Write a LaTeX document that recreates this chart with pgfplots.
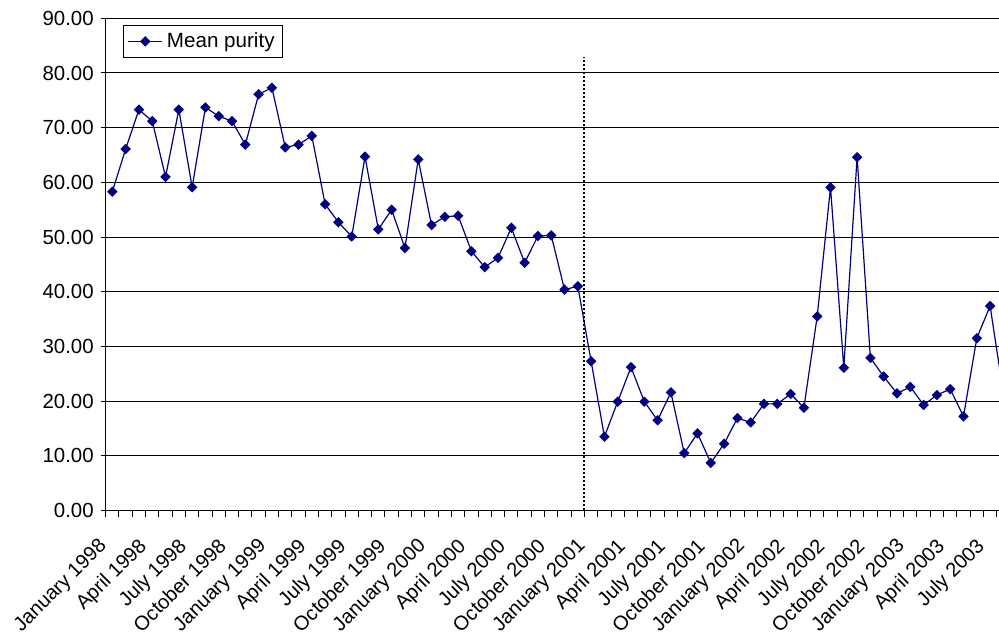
\documentclass[border=0pt]{standalone}
\usepackage{pgfplots}
\pgfplotsset{compat=1.18}
\usepackage{fontspec}
\setmainfont{Liberation Sans}
\definecolor{navy}{RGB}{0,0,128}
\begin{document}
\begin{tikzpicture}
\begin{axis}[
  name=ax,
  scale only axis,
  width=446.65pt, height=246.1pt,
  xmin=-0.5, xmax=66.67,
  ymin=0, ymax=90,
  axis lines*=left,
  axis line style={black, line width=0.5pt},
  ytick={0,10,...,90},
  yticklabel style={font=\fontsize{10.2}{12}\selectfont, /pgf/number format/fixed, /pgf/number format/fixed zerofill, /pgf/number format/precision=2, /pgf/number format/assume math mode=true},
  xtick={0,3,...,66},
  xticklabels={January 1998,April 1998,July 1998,October 1998,January 1999,April 1999,July 1999,October 1999,January 2000,April 2000,July 2000,October 2000,January 2001,April 2001,July 2001,October 2001,January 2002,April 2002,July 2002,October 2002,January 2003,April 2003,July 2003},
  xticklabel style={font=\fontsize{10}{12}\selectfont, xshift=-7.5pt, yshift=-10.5pt, rotate=45, anchor=north east, inner sep=0pt},
  minor xtick={-0.5,0.5,...,66.5},
  major x tick style={draw=none},
  minor x tick style={black, line width=0.5pt},
  major y tick style={black, line width=0.5pt},
  tick align=outside,
  major tick length=2.5pt,
  minor tick length=3.5pt,
  ymajorgrids,
  grid style={black, line width=0.5pt},
  clip=true,
  legend style={at={(axis description cs:0.0195,0.9866)}, anchor=north west, draw=black, line width=0.5pt, fill=white, font=\fontsize{10.3}{12}\selectfont, inner xsep=2pt, inner ysep=1.5pt},
  legend cell align=left,
]
\addplot[color=navy, line width=0.6pt, mark=square*, mark size=1.55pt, mark options={solid, fill=navy, rotate=45}] coordinates {
(0,58.3)(1,66.1)(2,73.3)(3,71.2)(4,61.0)(5,73.3)(6,59.1)(7,73.7)(8,72.1)(9,71.2)
(10,66.9)(11,76.1)(12,77.3)(13,66.4)(14,66.9)(15,68.5)(16,56.0)(17,52.7)(18,50.1)(19,64.7)
(20,51.4)(21,55.0)(22,48.0)(23,64.2)(24,52.2)(25,53.7)(26,53.9)(27,47.4)(28,44.5)(29,46.2)
(30,51.7)(31,45.3)(32,50.2)(33,50.3)(34,40.4)(35,41.0)(36,27.3)(37,13.5)(38,19.9)(39,26.2)
(40,19.9)(41,16.5)(42,21.6)(43,10.5)(44,14.1)(45,8.7)(46,12.2)(47,16.9)(48,16.1)(49,19.5)
(50,19.5)(51,21.3)(52,18.8)(53,35.5)(54,59.1)(55,26.1)(56,64.6)(57,27.9)(58,24.5)(59,21.4)
(60,22.6)(61,19.3)(62,21.1)(63,22.2)(64,17.2)(65,31.5)(66,37.4)(67,21.4)
};
\addlegendentry{Mean purity}
\addplot[black, line width=1pt, dash pattern=on 1pt off 1pt, forget plot] coordinates {(35.5,0)(35.5,83)};
\end{axis}
\pgfresetboundingbox
\path[use as bounding box] ([xshift=-52.85pt,yshift=-62.25pt]ax.south west) rectangle ([yshift=9.15pt]ax.north east);
\end{tikzpicture}
\end{document}
